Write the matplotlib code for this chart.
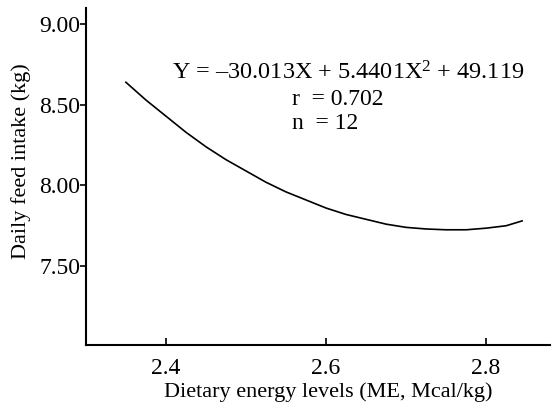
import numpy as np
import matplotlib.pyplot as plt

# curve (energy level, feed intake)
energia = [2.350, 2.375, 2.400, 2.425, 2.450, 2.475, 2.500, 2.525, 2.550, 2.575,
           2.600, 2.625, 2.650, 2.675, 2.700, 2.725, 2.750, 2.775, 2.800, 2.825, 2.845]
consumo = [8.64, 8.53, 8.43, 8.33, 8.24, 8.16, 8.09, 8.02, 7.96, 7.91,
           7.86, 7.82, 7.79, 7.76, 7.74, 7.73, 7.725, 7.725, 7.735, 7.75, 7.78]

xticks = [2.4, 2.6, 2.8]
yticks = [7.50, 8.00, 8.50, 9.00]

plt.rcParams['font.family'] = ['Liberation Serif', 'DejaVu Serif']
plt.rcParams['mathtext.fontset'] = 'custom'
plt.rcParams['mathtext.rm'] = 'Liberation Serif'
plt.rcParams['mathtext.it'] = 'Liberation Serif'

fig = plt.figure(figsize=(5.54, 4.05), dpi=100)
ax = fig.add_axes([0.155, 0.148, 0.838, 0.832])
ax.plot(energia, consumo, color='black', lw=1.2)

ax.set_xlim(2.3, 2.88)
ax.set_ylim(7.01, 9.10)
ax.set_xticks(xticks)
ax.set_xticklabels([f"{v:.1f}" for v in xticks], fontsize=17)
ax.set_yticks(yticks)
ax.set_yticklabels([f"{v:.2f}" for v in yticks], fontsize=17)
ax.tick_params(axis='x', direction='in', length=5, width=1.2, pad=9)
ax.tick_params(axis='y', direction='out', length=4, width=1.2, pad=0)

for s in ['top', 'right']:
    ax.spines[s].set_visible(False)
for s in ['left', 'bottom']:
    ax.spines[s].set_linewidth(1.5)

ax.set_xlabel("Dietary energy levels (ME, Mcal/kg)", fontsize=16)
ax.set_ylabel("Daily feed intake (kg)", fontsize=16)
ax.xaxis.set_label_coords(0.522, -0.11)
ax.yaxis.set_label_coords(-0.118, 0.545)

ax.text(2.408, 8.66, "Y = \u201330.013X + 5.4401X$^{\\mathrm{2}}$ + 49.119", fontsize=17.5)
ax.text(2.558, 8.50, "r  = 0.702", fontsize=17)
ax.text(2.558, 8.35, "n  = 12", fontsize=17)

fig.savefig("out.png", dpi=100)
